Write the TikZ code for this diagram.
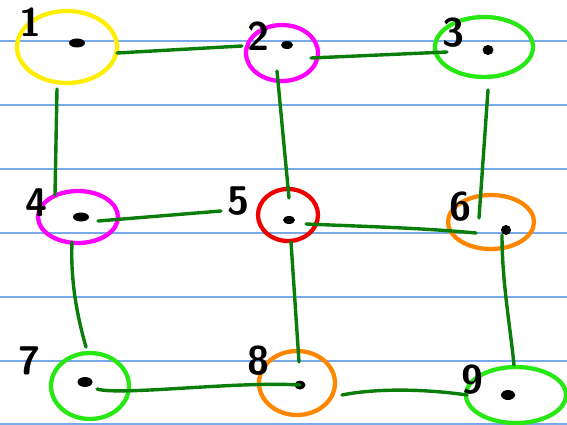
\documentclass[tikz,border=0pt]{standalone}
\usetikzlibrary{shapes.geometric,calc}
\definecolor{ruled}{RGB}{120,170,235}
\definecolor{edgegreen}{RGB}{10,125,10}
\definecolor{cyel}{RGB}{255,238,0}
\definecolor{cmag}{RGB}{255,0,255}
\definecolor{cgrn}{RGB}{40,232,20}
\definecolor{cred}{RGB}{238,0,0}
\definecolor{corg}{RGB}{255,135,0}
\tikzset{
  ring/.style={ellipse,draw=#1,line width=4.3pt,inner sep=0pt},
  blob/.style={ellipse,fill=black,inner sep=0pt},
  lbl/.style={font=\sffamily\bfseries\fontsize{40}{40}\selectfont,inner sep=0pt},
  link/.style={draw=edgegreen,line width=3.4pt,line cap=round},
  rule/.style={draw=ruled,line width=1.3pt}
}
\begin{document}
\begin{tikzpicture}[x=1pt,y=-1pt]
\useasboundingbox (0,0) rectangle (567,425);
\fill[white] (0,0) rectangle (567,425);
% ruled lines
\foreach \yy in {41,105,169,233,297,361,424}
  \draw[rule] (0,\yy) -- (567,\yy);
% rings
\node[ring=cyel,minimum width=100pt,minimum height=72pt] (n1) at (67,47) {};
\node[ring=cmag,minimum width=72pt,minimum height=56pt] (n2) at (282,53) {};
\node[ring=cgrn,minimum width=98pt,minimum height=60pt] (n3) at (484,47) {};
\node[ring=cmag,minimum width=80pt,minimum height=52pt] (n4) at (78,217) {};
\node[ring=cred,minimum width=60pt,minimum height=52pt] (n5) at (288,215) {};
\node[ring=corg,minimum width=86pt,minimum height=54pt] (n6) at (491,222) {};
\node[ring=cgrn,minimum width=78pt,minimum height=66pt] (n7) at (90,386) {};
\node[ring=corg,minimum width=76pt,minimum height=64pt] (n8) at (297,383) {};
\node[ring=cgrn,minimum width=100pt,minimum height=56pt] (n9) at (516,395) {};
% dots
\node[blob,minimum width=16pt,minimum height=9pt] (d1) at (77,43) {};
\node[blob,minimum width=12pt,minimum height=8pt] (d2) at (287,45) {};
\node[blob,minimum width=11pt,minimum height=10pt] (d3) at (488,50) {};
\node[blob,minimum width=16pt,minimum height=9pt] (d4) at (81,217) {};
\node[blob,minimum width=12pt,minimum height=8pt] (d5) at (289,220) {};
\node[blob,minimum width=10pt,minimum height=10pt] (d6) at (506,230) {};
\node[blob,minimum width=15pt,minimum height=10pt] (d7) at (85,382) {};
\node[blob,minimum width=11pt,minimum height=9pt] (d8) at (300,385) {};
\node[blob,minimum width=14pt,minimum height=10pt] (d9) at (508,395) {};
% labels
\node[lbl] (l1) at (30,22) {1};
\node[lbl] (l2) at (258,36) {2};
\node[lbl] (l3) at (453,33) {3};
\node[lbl] (l4) at (36,203) {4};
\node[lbl] (l5) at (238,201) {5};
\node[lbl] (l6) at (460,207) {6};
\node[lbl] (l7) at (29,361) {7};
\node[lbl] (l8) at (258,361) {8};
\node[lbl] (l9) at (472,380) {9};
% connectors
\draw[link] ($(n1.center)+(50,6)$) -- ($(n2.center)+(-40,-7)$);
\draw[link] ($(n2.center)+(29,5)$) -- ($(n3.center)+(-37,5)$);
\draw[link] ($(n1.center)+(-10,42)$) -- ($(n4.center)+(-23,-22)$);
\draw[link] ($(n2.center)+(-5,18)$) -- ($(n5.center)+(1,-17)$);
\draw[link] ($(n3.center)+(4,43)$) -- ($(n6.center)+(-12,-4)$);
\draw[link] ($(n4.center)+(20,4)$) -- ($(n5.center)+(-67,-4)$);
\draw[link] ($(n5.center)+(18,9)$) .. controls ($(n5.center)+(90,12)$) and ($(n6.center)+(-70,6)$) .. ($(n6.center)+(-15,11)$);
\draw[link] ($(n4.center)+(-6,25)$) .. controls ($(n4.center)+(-8,70)$) and ($(n7.center)+(-10,-60)$) .. ($(n7.center)+(-4,-39)$);
\draw[link] ($(n5.center)+(3,27)$) -- ($(n8.center)+(2,-21)$);
\draw[link] ($(n6.center)+(11,13)$) .. controls ($(n6.center)+(11,60)$) and ($(n9.center)+(-6,-70)$) .. ($(n9.center)+(-2,-30)$);
\draw[link] ($(n7.center)+(7,3)$) .. controls ($(n7.center)+(30,10)$) and ($(n8.center)+(-60,-2)$) .. ($(n8.center)+(3,2)$);
\draw[link] ($(n8.center)+(45,12)$) .. controls ($(n8.center)+(80,5)$) and ($(n9.center)+(-90,-6)$) .. ($(n9.center)+(-49,0)$);
\end{tikzpicture}
\end{document}
